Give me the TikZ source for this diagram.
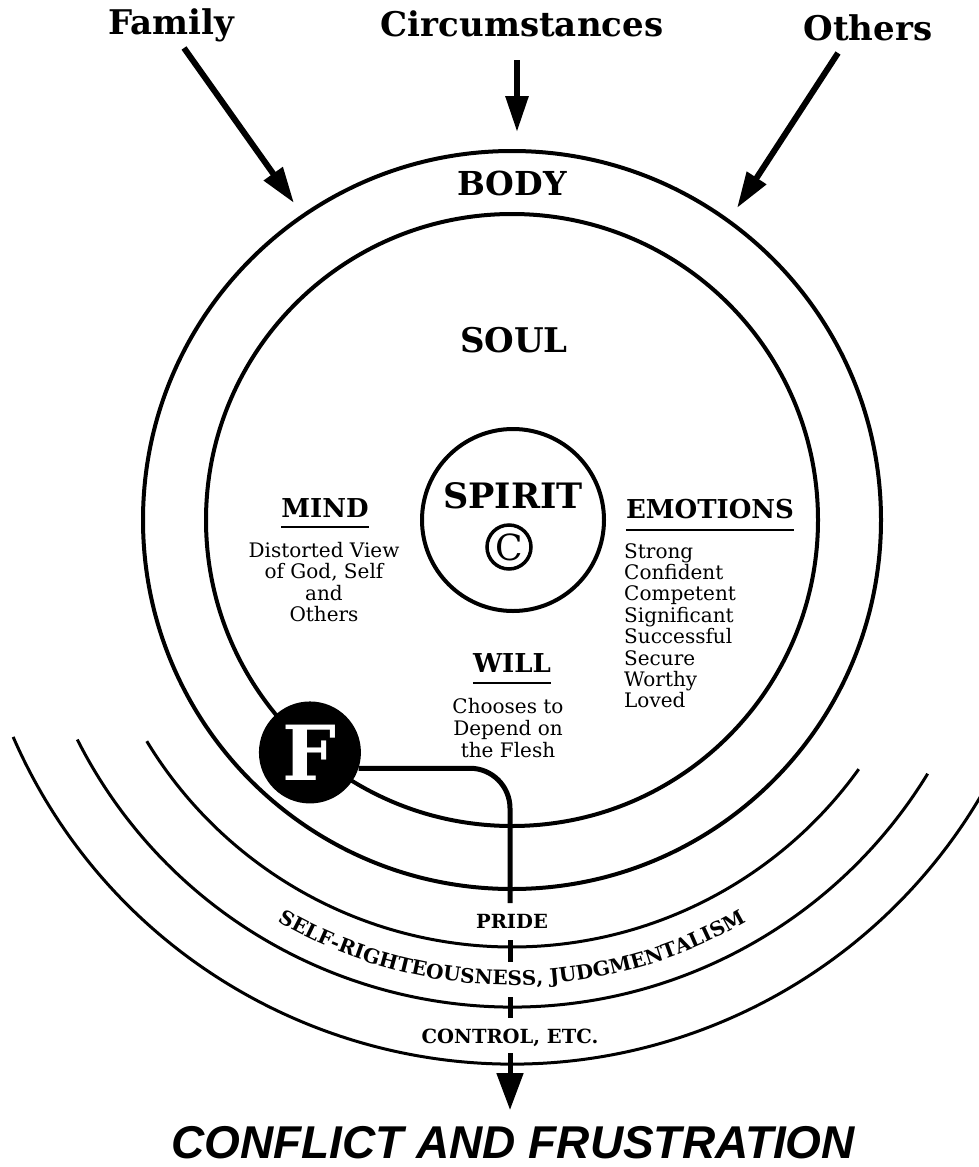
\documentclass[tikz,border=0pt]{standalone}
\usepackage{fontspec}
\setmainfont{DejaVu Serif}
\newfontfamily\bannerfont{Liberation Sans}
\usetikzlibrary{arrows.meta,decorations.text,positioning}

\begin{document}
\begin{tikzpicture}[x=1pt, y=-1pt,
    ring/.style={draw, circle, line width=4pt, inner sep=0pt},
    band/.style={line width=3pt},
    push/.style={line width=6pt, -{Triangle[length=36pt,width=22pt]}},
    flow/.style={line width=5pt},
    title/.style={font=\bfseries\fontsize{34}{34}\selectfont, anchor=base, inner sep=0pt},
    head/.style={font=\bfseries\fontsize{26}{26}\selectfont, anchor=base, inner sep=0pt},
    small/.style={font=\fontsize{20}{21.4}\selectfont, inner sep=0pt},
    tag/.style={font=\bfseries\fontsize{19.5}{19.5}\selectfont, anchor=base, inner sep=0pt}]
    \useasboundingbox (0,0) rectangle (979,1167);
    \coordinate (C) at (512,520);

    % Influences
    \node[title] (family) at (171,34) {Family};
    \node[title] (circ) at (522,36) {Circumstances};
    \node[title] (others) at (868,40) {Others};
    \coordinate (famtail) at (184,48);
    \coordinate (famtip) at (294,203);
    \coordinate (circtail) at (517,60);
    \coordinate (circtip) at (517,132);
    \coordinate (othtail) at (838,53);
    \coordinate (othtip) at (737,208);
    \draw[push] (famtail) -- (famtip);
    \draw[push] (circtail) -- (circtip);
    \draw[push] (othtail) -- (othtip);

    % Body, soul, spirit
    \node[ring, minimum size=738pt] (body) at (C) {};
    \node[ring, minimum size=612pt] (soul) at (C) {};
    \node[ring, minimum size=182pt] (spirit) at (513,520) {};
    \node[title, font=\bfseries\fontsize{33}{33}\selectfont] (bodylbl) at (512,195) {BODY};
    \node[title, font=\bfseries\fontsize{34}{34}\selectfont] (soullbl) at (514,352) {SOUL};
    \node[title, font=\bfseries\fontsize{35}{35}\selectfont] (spiritlbl) at (513,508) {SPIRIT};
    \node[draw, circle, line width=3.5pt, minimum size=44pt, inner sep=0pt,
          font=\fontsize{36}{36}\selectfont] (copy) at (509,547) {C};

    % Mind
    \node[head] (mind) at (325,517) {MIND};
    \draw[line width=2pt] ([yshift=-10pt]mind.base west) -- ([yshift=-10pt]mind.base east);
    \node[small, align=center, anchor=north] (mindtxt) at (324,542)
        {Distorted View\\of God, Self\\and\\Others};

    % Emotions
    \node[head] (emo) at (710,518) {EMOTIONS};
    \draw[line width=2pt] ([yshift=-12pt]emo.base west) -- ([yshift=-12pt]emo.base east);
    \node[small, align=left, anchor=north west] (emotxt) at (624,543)
        {Strong\\Confident\\Competent\\Significant\\Successful\\Secure\\Worthy\\Loved};

    % Will
    \node[head] (will) at (512,672) {WILL};
    \draw[line width=2pt] ([yshift=-11pt]will.base west) -- ([yshift=-11pt]will.base east);
    \node[small, align=center, anchor=north, font=\fontsize{20}{22}\selectfont] (willtxt) at (508,698)
        {Chooses to\\Depend on\\the Flesh};

    % Flesh
    \node[circle, fill=black, minimum size=102pt, inner sep=0pt, text=white,
          font=\bfseries\fontsize{76}{76}\selectfont] (flesh) at (soul.229) {F};
    \coordinate (bend) at (510,903);
    \draw[flow, rounded corners=40pt] (flesh.-18) -| (bend);

    % Outer bands
    \draw[band] (C) ++(211.2:427pt) arc[start angle=211.2, end angle=324.3, radius=427pt];
    \draw[band] (C) ++(206.8:487pt) arc[start angle=206.8, end angle=328.6, radius=487pt];
    \draw[band] (C) ++(203.5:544pt) arc[start angle=203.5, end angle=336, radius=544pt];

    \node[tag] (pride) at (512,928) {PRIDE};
    \path[decorate, decoration={text along path, text align=center,
        text={|\bfseries\fontsize{20}{20}\selectfont|SELF-RIGHTEOUSNESS, JUDGMENTALISM}}]
        (C) ++(200:465pt) arc[start angle=200, end angle=340, radius=465pt];
    \node[tag] (control) at (510,1043) {CONTROL, ETC.};

    % Dashed way down
    \coordinate (s1a) at (510,940);
    \coordinate (s1b) at (510,962);
    \coordinate (s2a) at (510,997);
    \coordinate (s2b) at (510,1018);
    \coordinate (droptail) at (510,1053);
    \coordinate (droptip) at (510,1110);
    \draw[flow] (s1a) -- (s1b);
    \draw[flow] (s2a) -- (s2b);
    \draw[flow, -{Triangle[length=37pt,width=26pt]}] (droptail) -- (droptip);

    \node[anchor=base, inner sep=0pt, font=\bannerfont\bfseries\itshape\fontsize{46}{46}\selectfont]
        (outcome) at (513,1158) {CONFLICT AND FRUSTRATION};
\end{tikzpicture}
\end{document}
